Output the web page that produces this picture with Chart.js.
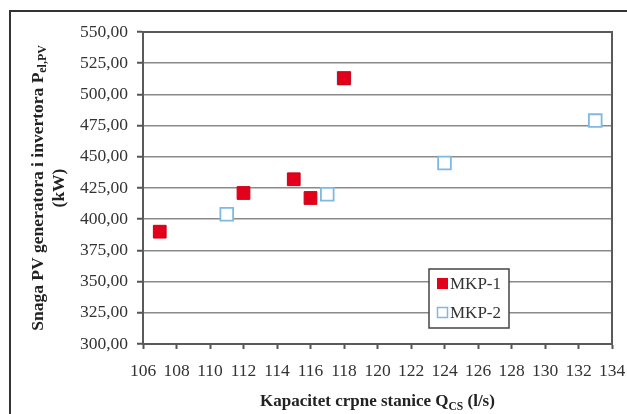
<!DOCTYPE html>
<html>
<head>
<meta charset="utf-8">
<script src="https://cdn.jsdelivr.net/npm/chart.js@4"></script>
<style>
  html, body { margin: 0; padding: 0; background: #fff; }
  canvas { display: block; }
</style>
</head>
<body>
<canvas id="chart" width="627" height="414"></canvas>
<script>
// data
const mkp1X = [107, 112, 115, 116, 118];
const mkp1Y = [390, 421, 432, 417, 513];
const mkp2X = [111, 117, 118, 124, 133];
const mkp2Y = [404, 420, 513, 445, 479];

const xMin = 106, xMax = 134, xStep = 2;
const yMin = 300, yMax = 550, yStep = 25;

const seriesNames = ["MKP-1", "MKP-2"];

const FONT = "'Liberation Serif', 'Times New Roman', serif";

function toPoints(xs, ys) {
  return xs.map((x, i) => ({ x: x, y: ys[i] }));
}

// draw "text" with a subscript part
function drawSub(ctx, parts, x, y, size) {
  let w = 0;
  parts.forEach(p => {
    ctx.font = "bold " + (p.sub ? size * 0.68 : size) + "px " + FONT;
    w += ctx.measureText(p.t).width;
  });
  let cx = x - w / 2;
  parts.forEach(p => {
    ctx.font = "bold " + (p.sub ? size * 0.68 : size) + "px " + FONT;
    ctx.fillText(p.t, cx, y + (p.sub ? size * 0.28 : 0));
    cx += ctx.measureText(p.t).width;
  });
}

const decor = {
  id: "decor",
  beforeDraw(chart) {
    const ctx = chart.ctx;
    ctx.save();
    ctx.strokeStyle = "#333";
    ctx.lineWidth = 2;
    ctx.beginPath();
    ctx.moveTo(10, 414);
    ctx.lineTo(10, 11);
    ctx.lineTo(627, 11);
    ctx.stroke();
    ctx.restore();
  },
  afterDatasetsDraw(chart) {
    const ctx = chart.ctx;
    const a = chart.chartArea;
    ctx.save();
    // plot box
    ctx.strokeStyle = "#5a5a5a";
    ctx.lineWidth = 2;
    ctx.strokeRect(a.left, a.top, a.right - a.left, a.bottom - a.top);

    // axis titles
    ctx.fillStyle = "#222";
    ctx.textBaseline = "middle";
    ctx.textAlign = "left";
    const midY = (a.top + a.bottom) / 2;
    ctx.save();
    ctx.translate(38, midY);
    ctx.rotate(-Math.PI / 2);
    drawSub(ctx, [{ t: "Snaga PV generatora i invertora P" }, { t: "el,PV", sub: true }], 0, 0, 17.5);
    ctx.restore();
    ctx.save();
    ctx.translate(59, midY);
    ctx.rotate(-Math.PI / 2);
    drawSub(ctx, [{ t: "(kW)" }], 0, 0, 17.5);
    ctx.restore();
    drawSub(ctx, [{ t: "Kapacitet crpne stanice Q" }, { t: "CS", sub: true }, { t: " (l/s)" }],
      (a.left + a.right) / 2, 402, 17);

    // legend box
    const lx = 429, ly = 269, lw = 80, lh = 59;
    ctx.fillStyle = "#fff";
    ctx.fillRect(lx, ly, lw, lh);
    ctx.strokeStyle = "#444";
    ctx.lineWidth = 1.5;
    ctx.strokeRect(lx, ly, lw, lh);
    chart.data.datasets.forEach((ds, i) => {
      const yy = ly + 15 + i * 29;
      if (ds.pointBackgroundColor !== "#fff") {
        ctx.fillStyle = ds.pointBackgroundColor;
        ctx.fillRect(437, yy - 6, 11, 11);
      } else {
        ctx.strokeStyle = ds.pointBorderColor;
        ctx.lineWidth = 1.5;
        ctx.strokeRect(437.5, yy - 5.5, 10, 10);
      }
      ctx.fillStyle = "#333";
      ctx.font = "17px " + FONT;
      ctx.fillText(ds.label, 450, yy + 1);
    });
    ctx.restore();
  }
};

new Chart(document.getElementById("chart"), {
  type: "scatter",
  data: {
    datasets: [
      {
        label: seriesNames[0],
        data: toPoints(mkp1X, mkp1Y),
        pointStyle: "rect",
        pointRadius: 9,
        pointHoverRadius: 9,
        pointBackgroundColor: "#e2001a",
        pointBorderColor: "#c90018",
        pointBorderWidth: 1
      },
      {
        label: seriesNames[1],
        data: toPoints(mkp2X, mkp2Y),
        pointStyle: "rect",
        pointRadius: 9,
        pointHoverRadius: 9,
        pointBackgroundColor: "#fff",
        pointBorderColor: "#7db9e3",
        pointBorderWidth: 1.8
      }
    ]
  },
  options: {
    responsive: false,
    animation: false,
    layout: { padding: { left: 68, top: 32, right: 15, bottom: 30 } },
    plugins: {
      legend: { display: false },
      tooltip: { enabled: false }
    },
    scales: {
      x: {
        type: "linear",
        min: xMin,
        max: xMax,
        afterFit: s => { s.height = 40; s.paddingLeft = 0; s.paddingRight = 0; },
        ticks: {
          stepSize: xStep,
          color: "#333",
          padding: 12,
          maxRotation: 0,
          font: { family: FONT, size: 17.5 }
        },
        grid: {
          drawOnChartArea: false,
          drawTicks: true,
          tickLength: 5,
          tickColor: "#555",
          tickWidth: 2
        },
        border: { color: "#5a5a5a", width: 2 }
      },
      y: {
        min: yMin,
        max: yMax,
        afterFit: s => { s.width = 75; s.paddingTop = 0; s.paddingBottom = 0; },
        ticks: {
          stepSize: yStep,
          color: "#333",
          padding: 9,
          font: { family: FONT, size: 17.5 },
          callback: v => v.toFixed(2).replace(".", ",")
        },
        grid: {
          color: "#8a8a8a",
          lineWidth: 1.5,
          borderDash: [4, 1.5],
          tickLength: 6,
          tickColor: "#555",
          tickWidth: 2,
          tickBorderDash: []
        },
        border: { color: "#5a5a5a", width: 2 }
      }
    }
  },
  plugins: [decor]
});
</script>
</body>
</html>
